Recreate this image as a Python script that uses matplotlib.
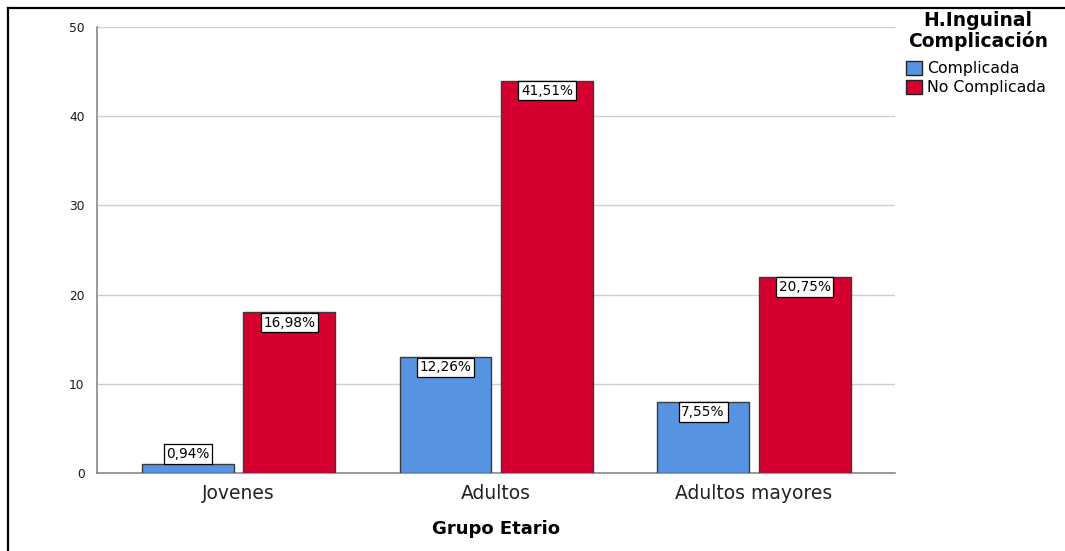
import matplotlib
matplotlib.use("Agg")
import matplotlib.pyplot as plt
from matplotlib.lines import Line2D
from matplotlib.patches import Patch
import numpy as np

plt.rcParams['font.family'] = ['DejaVu Sans']

groups = ["Jovenes", "Adultos", "Adultos mayores"]
series = ["Complicada", "No Complicada"]
complicada = [1, 13, 8]
no_complicada = [18, 44, 22]
pct_complicada = ["0,94%", "12,26%", "7,55%"]
pct_no_complicada = ["16,98%", "41,51%", "20,75%"]
y_ticks = [0, 10, 20, 30, 40, 50]

colors = ["#5694E1", "#D5002F"]

W, H = 1065, 551
fig = plt.figure(figsize=(W / 100, H / 100), dpi=100)
ax = fig.add_axes([97 / W, 1 - 473 / H, (895 - 97) / W, (473 - 27) / H])

x = np.arange(len(groups))
width = 0.357
offset = 0.197

bars_c = ax.bar(x - offset, complicada, width, color=colors[0],
                edgecolor="#3a3a3a", linewidth=1, zorder=3)
bars_n = ax.bar(x + offset, no_complicada, width, color=colors[1],
                edgecolor="#3a3a3a", linewidth=1, zorder=3)

ax.set_xlim(-0.55, 2.548)
ax.set_ylim(0, 50)
ax.set_yticks(y_ticks)
ax.set_yticklabels([str(t) for t in y_ticks], fontsize=8.8, color="#1a1a1a")
ax.set_xticks(x)
ax.set_xticklabels(groups, fontsize=13.5, color="#222222")
ax.tick_params(axis="both", length=0)
ax.tick_params(axis="y", pad=9)
ax.tick_params(axis="x", pad=8)
ax.yaxis.grid(True, color="#CFCFCF", linewidth=1, zorder=0)
ax.set_axisbelow(True)
for s in ["top", "right"]:
    ax.spines[s].set_visible(False)
for s in ["left", "bottom"]:
    ax.spines[s].set_color("#8a8a8a")
    ax.spines[s].set_linewidth(1.2)

ax.set_xlabel("Grupo Etario", fontsize=13, fontweight="bold", labelpad=12)

box = dict(boxstyle="square,pad=0.2", facecolor="white",
           edgecolor="black", linewidth=0.9)


def label_bars(bars, values, texts):
    for b, v, t in zip(bars, values, texts):
        cx = b.get_x() + b.get_width() / 2
        if v < 3:
            ax.annotate(t, (cx, v), xytext=(0, 2.3), textcoords="offset points",
                        ha="center", va="bottom", fontsize=9.8, bbox=box, zorder=5)
        else:
            ax.annotate(t, (cx, v), xytext=(0, -2.3), textcoords="offset points",
                        ha="center", va="top", fontsize=9.8, bbox=box, zorder=5)


label_bars(bars_c, complicada, pct_complicada)
label_bars(bars_n, no_complicada, pct_no_complicada)

# legend title and entries
fig.text(978 / W, 1 - 21 / H, "H.Inguinal", ha="center", va="center",
         fontsize=13.5, fontweight="bold")
fig.text(978 / W, 1 - 41 / H, "Complicación", ha="center", va="center",
         fontsize=13.5, fontweight="bold")
handles = [Patch(facecolor=colors[0], edgecolor="#222222", linewidth=1),
           Patch(facecolor=colors[1], edgecolor="#222222", linewidth=1)]
fig.legend(handles, series, loc="upper left",
           bbox_to_anchor=(906 / W, 1 - 61 / H), frameon=False,
           fontsize=11.3, handlelength=1.0, handleheight=1.0,
           handletextpad=0.35, labelspacing=0.2, borderpad=0,
           borderaxespad=0)

# outer frame lines along the top and left edges
fig.add_artist(Line2D([8 / W, 8 / W], [0, 1 - 8 / H], transform=fig.transFigure,
                      color="black", linewidth=1.6))
fig.add_artist(Line2D([8 / W, 1], [1 - 8 / H, 1 - 8 / H], transform=fig.transFigure,
                      color="black", linewidth=1.6))

fig.savefig("out.png", dpi=100)
